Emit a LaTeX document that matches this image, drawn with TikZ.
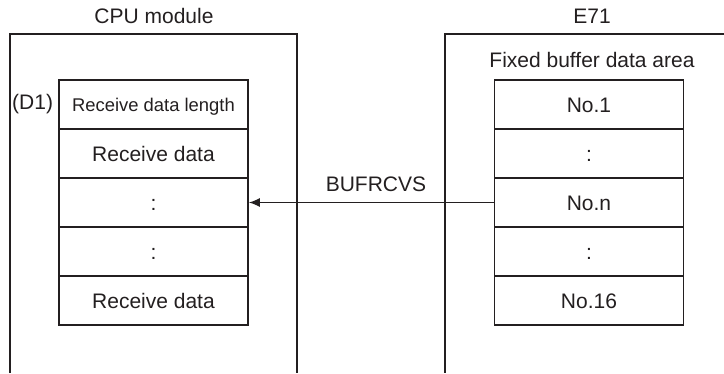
\documentclass[tikz,border=0pt]{standalone}
\usepackage{fontspec}
\setmainfont{Liberation Sans}
\usetikzlibrary{arrows.meta}
\definecolor{ink}{HTML}{231F20}
\begin{document}
\begin{tikzpicture}[x=1pt,y=-1pt,
  every node/.style={text=ink},
  lbl/.style={font=\fontsize{21}{25}\selectfont, inner sep=0pt},
  cell/.style={draw=ink, line width=1.6pt, minimum width=189pt, minimum height=49pt,
    inner sep=0pt, text height=15pt, text depth=0pt, font=\fontsize{21}{25}\selectfont},
  smallcell/.style={cell, font=\fontsize{18.4}{22}\selectfont, text height=13pt},
  frame/.style={draw=ink, line width=1.5pt},
  conn/.style={draw=ink, line width=1.6pt, -{Latex[length=11pt,width=9pt]}}
]
\useasboundingbox (0,0) rectangle (724,373);
% outer frames
\coordinate (lbl) at (10,373);
\coordinate (ltl) at (10,34);
\coordinate (ltr) at (297,34);
\coordinate (lbr) at (297,373);
\draw[frame] (lbl) -- (ltl) -- (ltr) -- (lbr);
\coordinate (rtr) at (724,34);
\coordinate (rtl) at (445,34);
\coordinate (rbl) at (445,373);
\draw[frame] (rtr) -- (rtl) -- (rbl);
% titles
\node[lbl] (cpu) at (154,16) {CPU module};
\node[lbl] (e71) at (592,16) {E71};
\node[lbl] (fbd) at (592,60) {Fixed buffer data area};
% left stack
\node[smallcell] (L1) at (153.5,104.5) {Receive data length};
\node[cell] (L2) at (153.5,153.5) {Receive data};
\node[cell] (L3) at (153.5,202.5) {:};
\node[cell] (L4) at (153.5,251.5) {:};
\node[cell] (L5) at (153.5,300.5) {Receive data};
\node[lbl, anchor=east, xshift=-5pt] (d1) at (L1.west) {(D1)};
% right stack
\node[cell] (R1) at (589,104.5) {No.1};
\node[cell] (R2) at (589,153.5) {:};
\node[cell] (R3) at (589,202.5) {No.n};
\node[cell] (R4) at (589,251.5) {:};
\node[cell] (R5) at (589,300.5) {No.16};
% connector
\draw[conn] (R3.west) -- (L3.east);
\node[lbl] (buf) at (376,184.5) {BUFRCVS};
\end{tikzpicture}
\end{document}
